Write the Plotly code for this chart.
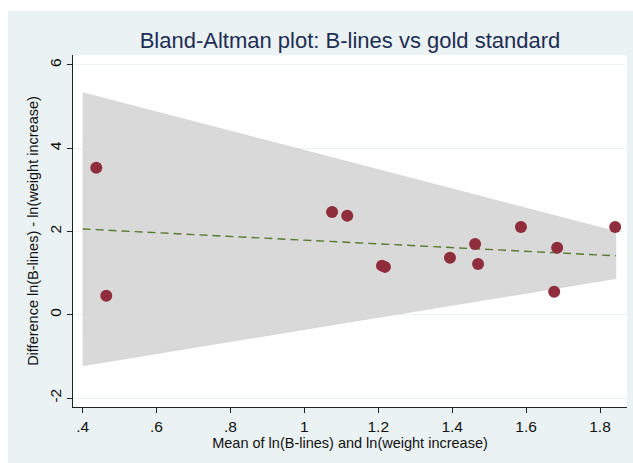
import plotly.graph_objects as go

# Per-subject means and differences of log B-lines vs log weight increase
mean_vals = [0.437, 0.464, 1.075, 1.116, 1.210, 1.218, 1.394, 1.462, 1.470,
             1.586, 1.676, 1.684, 1.841]
diff_vals = [3.53, 0.456, 2.47, 2.38, 1.18, 1.15, 1.37, 1.70, 1.22,
             2.11, 0.55, 1.61, 2.11]

# Regression-based limits of agreement and fitted bias line
band_x = [0.400, 1.8425]
band_upper = [5.335, 2.00]
band_lower = [-1.224, 0.87]
fit_y = [2.06, 1.416]

x_ticks = [0.4, 0.6, 0.8, 1.0, 1.2, 1.4, 1.6, 1.8]
x_ticklabels = [".4", ".6", ".8", "1", "1.2", "1.4", "1.6", "1.8"]
y_ticks = [-2, 0, 2, 4, 6]
y_ticklabels = ["-2", "0", "2", "4", "6"]

BG = "#eaf2f3"
FONT = "Liberation Sans, Arial, sans-serif"

fig = go.Figure()

fig.add_trace(go.Scatter(
    x=band_x + band_x[::-1],
    y=band_upper + band_lower[::-1],
    fill="toself", fillcolor="#d9d9d9",
    line=dict(color="#cccccc", width=0.6),
    mode="lines", hoverinfo="skip", showlegend=False,
))

fig.add_trace(go.Scatter(
    x=band_x, y=fit_y, mode="lines",
    line=dict(color="#587a2e", width=1.4, dash="8px,5px"),
    showlegend=False,
))

fig.add_trace(go.Scatter(
    x=mean_vals, y=diff_vals, mode="markers",
    marker=dict(size=12, color="#8f2d3c", line=dict(width=0)),
    showlegend=False,
))

# White outer strips around the tinted graph region
fig.add_shape(type="rect", xref="paper", yref="paper",
              x0=-0.3, x1=1.2, y0=1.125, y1=1.3,
              fillcolor="white", line=dict(width=0), layer="below")
fig.add_shape(type="rect", xref="paper", yref="paper",
              x0=-0.3, x1=-0.1173, y0=-0.3, y1=1.3,
              fillcolor="white", line=dict(width=0), layer="below")

fig.update_layout(
    width=633, height=463,
    margin=dict(l=73, r=6, t=55, b=56),
    paper_bgcolor=BG, plot_bgcolor="white",
    font=dict(family=FONT, color="#111111"),
    title=dict(
        text="Bland-Altman plot: B-lines vs gold standard",
        x=0.5, xref="paper", y=1 - 40 / 463, yref="container",
        xanchor="center", yanchor="middle",
        font=dict(family=FONT, size=22, color="#1e2d53"),
    ),
    xaxis=dict(
        range=[0.374, 1.873], tickvals=x_ticks, ticktext=x_ticklabels,
        showgrid=False, zeroline=False,
        showline=True, linecolor="#222222", linewidth=1,
        ticks="outside", ticklen=5, tickcolor="#222222",
        tickfont=dict(size=15.5, color="#111111"),
        title=dict(text="Mean of ln(B-lines) and ln(weight increase)",
                   font=dict(size=14.5, color="#111111"), standoff=2),
    ),
    yaxis=dict(
        range=[-2.216, 6.24], tickvals=y_ticks, ticktext=y_ticklabels,
        tickangle=-90,
        showgrid=True, gridcolor=BG, gridwidth=1, zeroline=False,
        showline=True, linecolor="#222222", linewidth=1,
        ticks="outside", ticklen=5, tickcolor="#222222",
        tickfont=dict(size=15.5, color="#111111"),
        title=dict(text="Difference ln(B-lines) - ln(weight increase)",
                   font=dict(size=14.5, color="#111111"), standoff=4),
    ),
)

fig.write_html("out.html")
